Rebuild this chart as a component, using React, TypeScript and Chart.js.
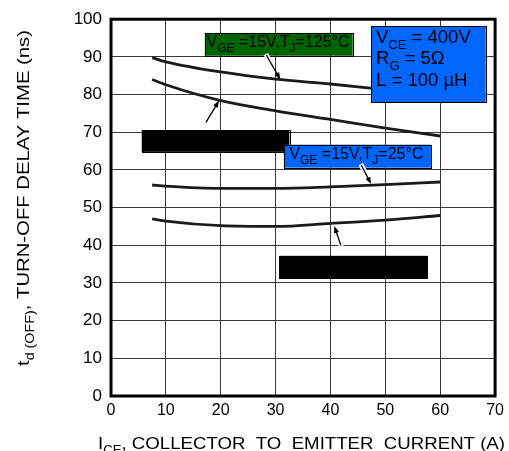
import React, { useEffect, useRef } from "react";
import { Chart, registerables } from "chart.js";

Chart.register(...registerables);

// ---- Data ----
const currents = [7.5, 10, 20, 30, 40, 50, 60];
const tdOff125Upper = [89.8, 88.7, 86.0, 84.1, 82.8, 81.3, 80.0];
const tdOff125Lower = [84.0, 82.6, 78.4, 75.7, 73.4, 71.1, 69.0];
const tdOff25Upper = [56.0, 55.7, 55.1, 55.1, 55.5, 56.1, 56.8];
const tdOff25Lower = [47.0, 46.4, 45.2, 45.0, 45.8, 46.7, 47.9];

const xMin = 0;
const xMax = 70;
const xStep = 10;
const yMin = 0;
const yMax = 100;
const yStep = 10;

const FONT = '"Liberation Sans", Arial, Helvetica, sans-serif';

type Part = { t: string; sub?: boolean };

const label125: Part[] = [
  { t: "V" }, { t: "GE", sub: true }, { t: " =15V,T" }, { t: "J", sub: true }, { t: "=125°C" },
];
const label25: Part[] = [
  { t: "V" }, { t: "GE", sub: true }, { t: " =15V,T" }, { t: "J", sub: true }, { t: "=25°C" },
];
const condLines: Part[][] = [
  [{ t: "V" }, { t: "CE", sub: true }, { t: " = 400V" }],
  [{ t: "R" }, { t: "G", sub: true }, { t: " = 5Ω" }],
  [{ t: "L = 100 µH" }],
];
const yTitle: Part[] = [
  { t: "t" }, { t: "d (OFF)", sub: true }, { t: "," }, { t: " TURN-OFF DELAY TIME (ns)" },
];
const xTitle: Part[] = [
  { t: "I" }, { t: "CE", sub: true }, { t: "," }, { t: " COLLECTOR  TO  EMITTER  CURRENT (A)" },
];

// annotation placement in data units
const boxes = [
  { x0: 17.1, x1: 44.05, y0: 90.3, y1: 96.35, fill: "#006400" },
  { x0: 47.4, x1: 68.3, y0: 77.9, y1: 98.1, fill: "#0066ff" },
  { x0: 5.6, x1: 32.5, y0: 64.8, y1: 70.6, fill: "#000000" },
  { x0: 31.5, x1: 58.3, y0: 60.6, y1: 66.7, fill: "#0066ff" },
  { x0: 30.7, x1: 57.7, y0: 31.25, y1: 37.2, fill: "#000000" },
];
const arrows = [
  { from: [28.3, 90.5], to: [30.85, 84.0] },
  { from: [17.3, 72.6], to: [19.7, 78.4] },
  { from: [45.6, 61.3], to: [47.4, 56.25] },
  { from: [41.9, 39.9], to: [40.7, 45.1] },
];

function partFont(p: Part, size: number) {
  return `${p.sub ? Math.round(size * 0.72) : size}px ${FONT}`;
}
function richWidth(ctx: CanvasRenderingContext2D, parts: Part[], size: number) {
  let w = 0;
  for (const p of parts) {
    ctx.font = partFont(p, size);
    w += ctx.measureText(p.t).width;
  }
  return w;
}
function drawRich(ctx: CanvasRenderingContext2D, parts: Part[], x: number, y: number, size: number) {
  let cx = x;
  ctx.textBaseline = "alphabetic";
  ctx.textAlign = "left";
  for (const p of parts) {
    ctx.font = partFont(p, size);
    ctx.fillText(p.t, cx, p.sub ? y + size * 0.3 : y);
    cx += ctx.measureText(p.t).width;
  }
}

const overlay = {
  id: "overlay",
  afterDatasetsDraw(chart: any) {
    const ctx: CanvasRenderingContext2D = chart.ctx;
    const xs = chart.scales.x;
    const ys = chart.scales.y;
    const ca = chart.chartArea;
    const px = (v: number) => xs.getPixelForValue(v);
    const py = (v: number) => ys.getPixelForValue(v);
    ctx.save();
    // frame
    ctx.strokeStyle = "#000";
    ctx.lineWidth = 3;
    ctx.strokeRect(ca.left, ca.top, ca.right - ca.left, ca.bottom - ca.top);

    // boxes
    for (const b of boxes) {
      const x0 = px(b.x0), x1 = px(b.x1), y0 = py(b.y1), y1 = py(b.y0);
      ctx.fillStyle = b.fill;
      ctx.fillRect(x0, y0, x1 - x0, y1 - y0);
      ctx.strokeStyle = "#000";
      ctx.lineWidth = 1;
      ctx.strokeRect(Math.round(x0) + 0.5, Math.round(y0) + 0.5, Math.round(x1 - x0), Math.round(y1 - y0));
    }
    ctx.fillStyle = "#000";
    drawRich(ctx, label125, px(17.4), py(92.7), 16);
    drawRich(ctx, label25, px(32.5), py(62.8), 16);
    const condY = [93.6, 88.0, 82.4];
    condLines.forEach((line, i) => drawRich(ctx, line, px(48.3), py(condY[i]), 18.5));

    // arrows
    for (const a of arrows) {
      const x0 = px(a.from[0]), y0 = py(a.from[1]);
      const x1 = px(a.to[0]), y1 = py(a.to[1]);
      const dx = x1 - x0, dy = y1 - y0;
      const len = Math.hypot(dx, dy);
      const ux = dx / len, uy = dy / len;
      // white halo on the tail part
      ctx.strokeStyle = "#fff";
      ctx.lineWidth = 5;
      ctx.beginPath();
      ctx.moveTo(x0 - ux, y0 - uy);
      ctx.lineTo(x0 + ux * len * 0.45, y0 + uy * len * 0.45);
      ctx.stroke();
      ctx.strokeStyle = "#000";
      ctx.lineWidth = 1.3;
      ctx.beginPath();
      ctx.moveTo(x0, y0);
      ctx.lineTo(x1 - ux * 5, y1 - uy * 5);
      ctx.stroke();
      const hl = 7, hw = 2.6;
      ctx.fillStyle = "#000";
      ctx.beginPath();
      ctx.moveTo(x1, y1);
      ctx.lineTo(x1 - ux * hl - uy * hw, y1 - uy * hl + ux * hw);
      ctx.lineTo(x1 - ux * hl + uy * hw, y1 - uy * hl - ux * hw);
      ctx.closePath();
      ctx.fill();
    }
    ctx.restore();
  },
  afterDraw(chart: any) {
    const ctx: CanvasRenderingContext2D = chart.ctx;
    ctx.save();
    ctx.fillStyle = "#000";
    // Y title (rotated), fitted between y=366 and y=30
    const ySize = 17;
    const yw = richWidth(ctx, yTitle, ySize);
    const yTarget = 336;
    ctx.translate(28.5, 366);
    ctx.rotate(-Math.PI / 2);
    ctx.scale(yTarget / yw, 1);
    drawRich(ctx, yTitle, 0, 0, ySize);
    ctx.restore();

    ctx.save();
    ctx.fillStyle = "#000";
    const xSize = 17;
    const xw = richWidth(ctx, xTitle, xSize);
    const xTarget = 407;
    ctx.translate(98, 449);
    ctx.scale(xTarget / xw, 1);
    drawRich(ctx, xTitle, 0, 0, xSize);
    ctx.restore();
  },
};

export default function App() {
  const ref = useRef<HTMLCanvasElement | null>(null);
  useEffect(() => {
    if (!ref.current) return;
    const mkDs = (data: number[]) => ({
      data: currents.map((x, i) => ({ x, y: data[i] })),
      borderColor: "#1a1a1a",
      borderWidth: 2.8,
      pointRadius: 0,
      cubicInterpolationMode: "monotone" as const,
      fill: false,
    });
    const chart = new Chart(ref.current, {
      type: "line",
      data: {
        datasets: [
          mkDs(tdOff125Upper),
          mkDs(tdOff125Lower),
          mkDs(tdOff25Upper),
          mkDs(tdOff25Lower),
        ],
      },
      options: {
        animation: false,
        responsive: false,
        devicePixelRatio: 1,
        layout: { padding: { top: 12, right: 13, left: 0, bottom: 0 } },
        plugins: { legend: { display: false }, tooltip: { enabled: false }, title: { display: false } },
        scales: {
          x: {
            type: "linear",
            min: xMin,
            max: xMax,
            ticks: { stepSize: xStep, color: "#000", font: { family: FONT, size: 16 }, padding: 5, maxRotation: 0 },
            grid: { color: "#3a3a3a", lineWidth: 1, drawTicks: false },
            border: { display: false },
            afterFit: (s: any) => { s.height = 55; },
          },
          y: {
            type: "linear",
            min: yMin,
            max: yMax,
            ticks: { stepSize: yStep, color: "#000", font: { family: FONT, size: 17 }, padding: 9 },
            grid: { color: "#3a3a3a", lineWidth: 1, drawTicks: false },
            border: { display: false },
            afterFit: (s: any) => { s.width = 111; },
          },
        },
      },
      plugins: [overlay],
    });
    return () => chart.destroy();
  }, []);
  return (
    <div style={{ position: "fixed", left: 0, top: 0, width: 509, height: 451, background: "#fff" }}>
      <canvas ref={ref} width={509} height={451} style={{ width: 509, height: 451, display: "block" }} />
    </div>
  );
}
